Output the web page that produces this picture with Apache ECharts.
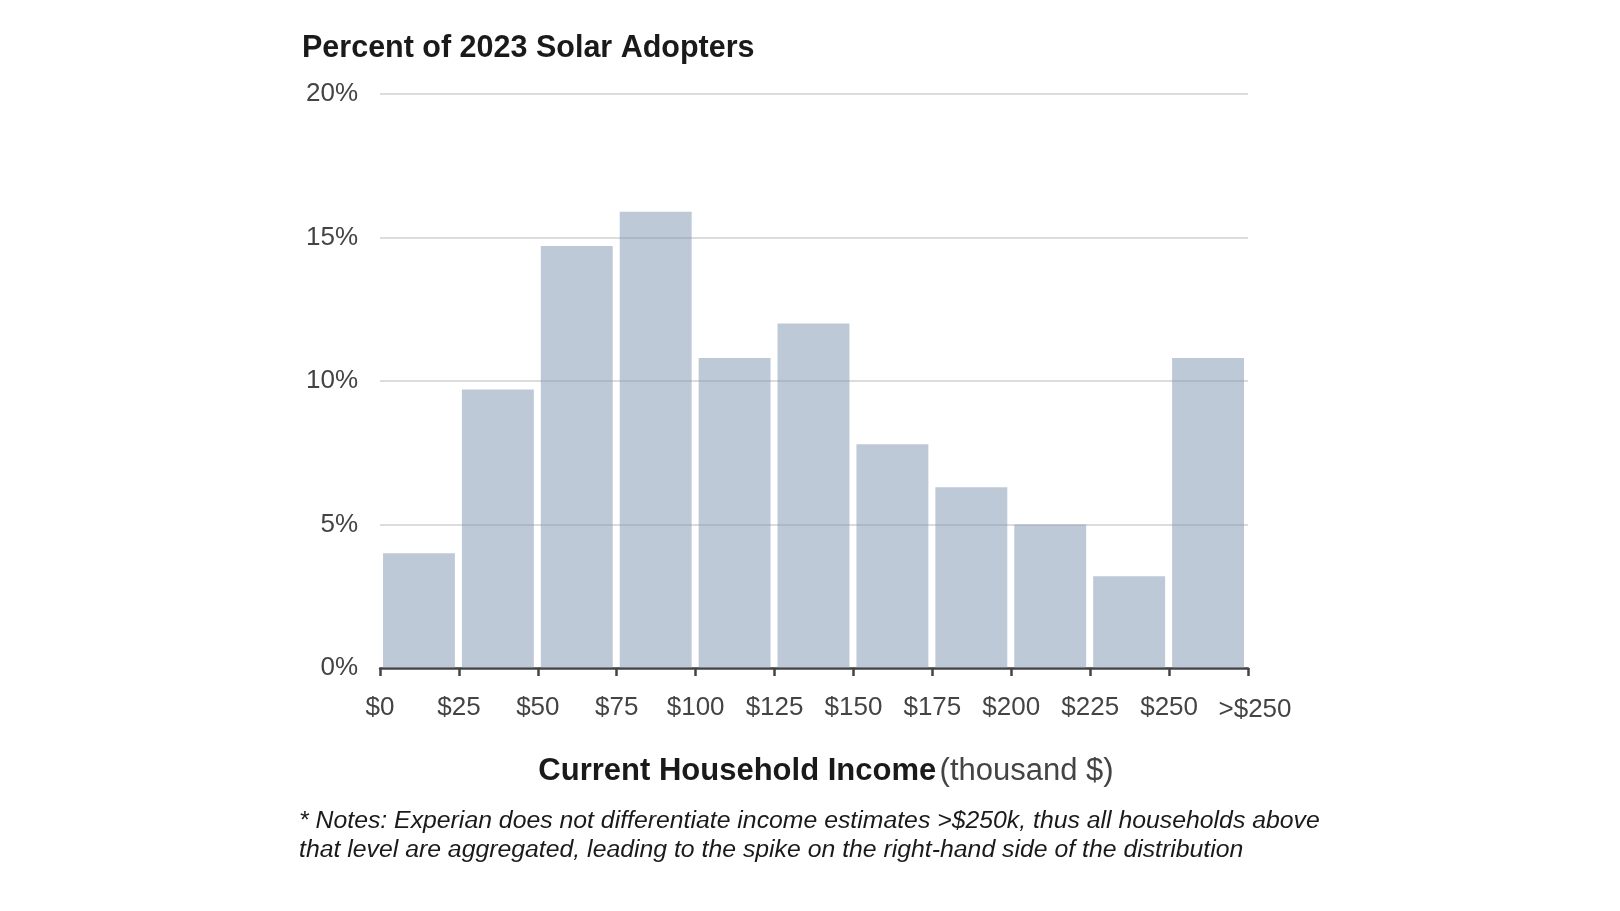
<!DOCTYPE html>
<html>
<head>
<meta charset="utf-8">
<script src="https://cdn.jsdelivr.net/npm/echarts@6/dist/echarts.min.js"></script>
<style>
  html, body { margin: 0; padding: 0; background: #fff; }
  #chart { width: 1620px; height: 911px; }
</style>
</head>
<body>
<div id="chart"></div>
<script>
// income bins, thousand $
const binStart = [0, 25, 50, 75, 100, 125, 150, 175, 200, 225, 250];
const binEnd = [25, 50, 75, 100, 125, 150, 175, 200, 225, 250, 275];
// percent of 2023 solar adopters
const share = [4.0, 9.7, 14.7, 15.9, 10.8, 12.0, 7.8, 6.3, 5.0, 3.2, 10.8];
const yTicks = [0, 5, 10, 15, 20];

const FONT = '"Liberation Sans", Arial, sans-serif';

function draw() {
  const chart = echarts.init(document.getElementById("chart"));

  const data = share.map((v, i) => [binStart[i], binEnd[i], v]);

  const option = {
    backgroundColor: "#fff",
    animation: false,
    title: [
      {
        text: "Percent of 2023 Solar Adopters",
        left: 302,
        top: 33,
        padding: 0,
        textStyle: { fontFamily: FONT, fontSize: 30.5, fontWeight: "bold", color: "#1a1a1a" }
      },
      {
        text: "* Notes: Experian does not differentiate income estimates >$250k, thus all households above\nthat level are aggregated, leading to the spike on the right-hand side of the distribution",
        left: 299,
        top: 807,
        padding: 0,
        textStyle: {
          fontFamily: FONT, fontSize: 24.8, fontStyle: "italic", fontWeight: "normal",
          color: "#1a1a1a", lineHeight: 29
        }
      }
    ],
    grid: { left: 380, right: 372, top: 94, bottom: 243 },
    xAxis: {
      type: "value",
      min: 0,
      max: 275,
      interval: 25,
      name: "{b|Current Household Income} {n|(thousand $)}",
      nameLocation: "middle",
      nameGap: 88,
      nameTextStyle: {
        rich: {
          b: { fontFamily: FONT, fontSize: 31, fontWeight: "bold", color: "#1a1a1a", padding: [0, 0, 0, 24] },
          n: { fontFamily: FONT, fontSize: 31, color: "#444" }
        }
      },
      axisLine: { show: true, lineStyle: { color: "#444", width: 2.5 } },
      axisTick: { show: true, length: 8, lineStyle: { color: "#444", width: 2.5 } },
      splitLine: { show: false },
      axisLabel: {
        margin: 27,
        fontFamily: FONT,
        fontSize: 26,
        color: "#444",
        showMinLabel: true,
        showMaxLabel: true,
        formatter: v => v === 275 ? "{g|>$250}" : "$" + v,
        rich: { g: { fontFamily: FONT, fontSize: 26, color: "#444", padding: [2, 0, 0, 14] } }
      }
    },
    yAxis: {
      type: "value",
      min: yTicks[0],
      max: yTicks[yTicks.length - 1],
      interval: 5,
      axisLine: { show: false },
      axisTick: { show: false },
      splitLine: { lineStyle: { color: "#dcdcdc", width: 2 } },
      axisLabel: {
        margin: 22,
        fontFamily: FONT,
        fontSize: 26,
        color: "#444",
        formatter: "{value}%"
      }
    },
    series: [{
      type: "custom",
      data,
      encode: { x: [0, 1], y: 2 },
      renderItem: (params, api) => {
        const p0 = api.coord([api.value(0), api.value(2)]);
        const p1 = api.coord([api.value(1), 0]);
        const x = p0[0] + 3;
        const w = p1[0] - p0[0] - 7;
        return {
          type: "rect",
          shape: { x, y: p0[1], width: w, height: p1[1] - p0[1] },
          style: { fill: "rgba(123,147,175,0.5)" }
        };
      }
    }]
  };

  chart.setOption(option);
  window.addEventListener("resize", () => chart.resize());
}

document.addEventListener("DOMContentLoaded", draw);
</script>
</body>
</html>
